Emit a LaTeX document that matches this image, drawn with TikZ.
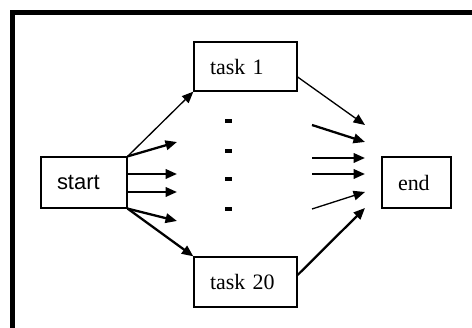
\documentclass[tikz,border=0pt]{standalone}
\usepackage{fontspec}
\setmainfont{Liberation Serif}
\newfontfamily\arialfont{Liberation Sans}
\usetikzlibrary{arrows.meta}

\begin{document}
\begin{tikzpicture}[>={Triangle[length=0.23cm,width=0.19cm]},
    font=\fontsize{12.5}{15}\selectfont,
    box/.style={draw, line width=0.7pt, minimum height=1cm, inner xsep=0.32cm, align=left},
    thinarrow/.style={->, line width=0.75pt},
    thickarrow/.style={->, line width=1.3pt},
    dotmark/.style={fill, inner sep=0, minimum width=0.14cm, minimum height=0.07cm}]

    \useasboundingbox (0,0) rectangle (9.44,6.56);

    % Frame (top and left edges)
    \draw[line width=0.1cm] (9.44,6.31) -- (0.25,6.31) -- (0.25,0);

    % Nodes
    \node[box, text width=1.08cm, minimum height=1.02cm] (start) at (1.68,2.91) {\arialfont start};
    \node[box, text width=1.42cm, minimum height=0.98cm] (task1) at (4.91,5.23) {task 1};
    \node[box, text width=1.42cm] (task20) at (4.91,0.92) {task 20};
    \node[box, text width=0.74cm, minimum height=1.02cm] (end) at (8.33,2.91) {end};

    % Dots between the tasks
    \node[dotmark] (dot1) at (4.56,4.14) {};
    \node[dotmark] (dot2) at (4.56,3.54) {};
    \node[dotmark] (dot3) at (4.56,2.98) {};
    \node[dotmark] (dot4) at (4.56,2.38) {};

    % Free ends of the fan-out arrows
    \coordinate (l1) at (3.54,3.72);
    \coordinate (l2) at (3.54,3.08);
    \coordinate (l3) at (3.54,2.72);
    \coordinate (l4) at (3.54,2.14);

    % Free ends of the fan-in arrows
    \coordinate (m2) at (6.24,4.06);
    \coordinate (m3) at (6.24,3.40);
    \coordinate (m4) at (6.24,3.08);
    \coordinate (m5) at (6.24,2.38);
    \coordinate (r1) at (7.30,4.06);
    \coordinate (r2) at (7.30,3.72);
    \coordinate (r3) at (7.30,3.40);
    \coordinate (r4) at (7.30,3.08);
    \coordinate (r5) at (7.30,2.72);
    \coordinate (r6) at (7.30,2.40);

    % Fan-out from start
    \draw[thinarrow] (start.north east) -- (task1.south west);
    \draw[thickarrow] (start.north east) -- (l1);
    \draw[thickarrow] ([yshift=0.17cm]start.east) -- (l2);
    \draw[thickarrow] ([yshift=-0.19cm]start.east) -- (l3);
    \draw[thickarrow] (start.south east) -- (l4);
    \draw[thickarrow] (start.south east) -- (task20.north west);

    % Fan-in to end
    \draw[thinarrow] ([yshift=-0.21cm]task1.east) -- (r1);
    \draw[thickarrow] (m2) -- (r2);
    \draw[thickarrow] (m3) -- (r3);
    \draw[thickarrow] (m4) -- (r4);
    \draw[thinarrow] (m5) -- (r5);
    \draw[thickarrow] ([yshift=0.14cm]task20.east) -- (r6);

\end{tikzpicture}
\end{document}
